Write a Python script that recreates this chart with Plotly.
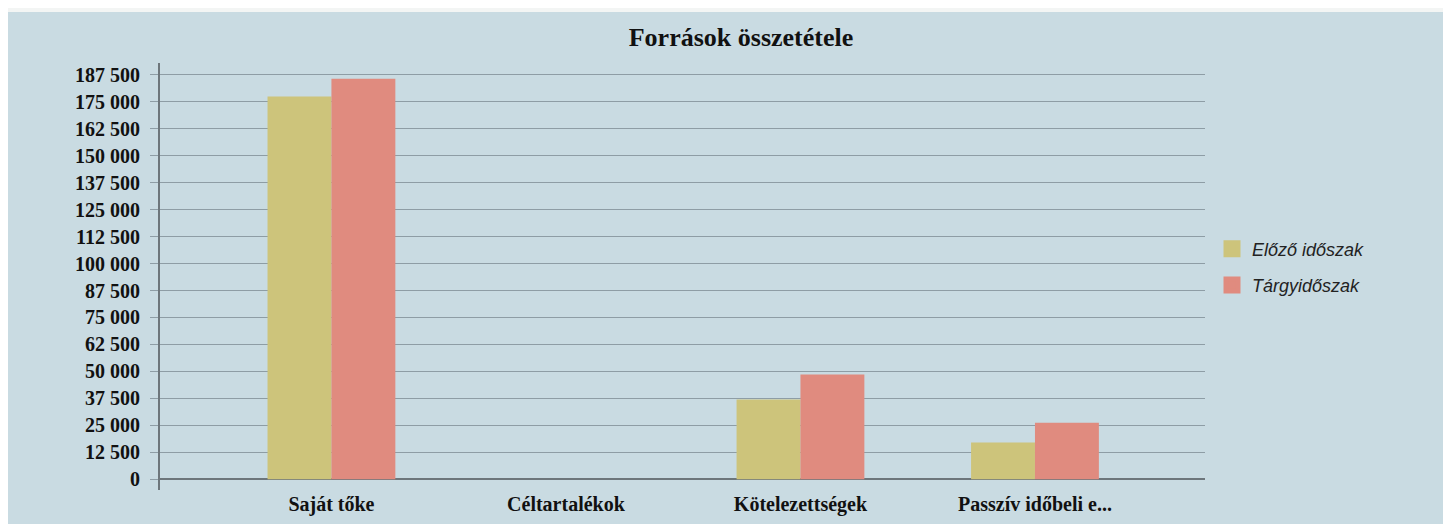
import plotly.graph_objects as go

categories = ["Saját tőke", "Céltartalékok", "Kötelezettségek", "Passzív időbeli e..."]
series_names = ["Előző időszak", "Tárgyidőszak"]
prev_values = [177500, 0, 37000, 17000]
curr_values = [185700, 0, 48500, 26200]
y_tick_values = [0, 12500, 25000, 37500, 50000, 62500, 75000, 87500, 100000,
                 112500, 125000, 137500, 150000, 162500, 175000, 187500]
y_tick_labels = ["0", "12 500", "25 000", "37 500", "50 000", "62 500", "75 000", "87 500", "100 000",
                 "112 500", "125 000", "137 500", "150 000", "162 500", "175 000", "187 500"]
title_text = "Források összetétele"

BG = "#c9dbe2"
GRID = "#8e9da5"
AXIS = "#6d767b"
YELLOW = "#cdc47b"
RED = "#e08b7f"
colors = [YELLOW, RED]

fig = go.Figure()
for name, vals, col, grp in zip(series_names, [prev_values, curr_values], colors, ["a", "b"]):
    fig.add_trace(go.Bar(x=categories, y=vals, name=name, legendgroup=grp, showlegend=False,
                         marker=dict(color=col, line=dict(width=0))))
    # legend-only entry with larger swatch, on a hidden overlay axis
    fig.add_trace(go.Bar(x=[categories[0]], y=[None], name=name, legendgroup=grp, showlegend=True,
                         xaxis="x2", yaxis="y2", hoverinfo="skip",
                         marker=dict(color=col, line=dict(width=5, color=col))))

# page is offset by the 8px body margin
W, H = 1443, 516
L, R, T, B = 152, 246, 55, 34
pw = W - L - R
ph = H - T - B

def px_x(x):
    return (x - L) / pw

def px_y(y):
    return (H - B - y) / ph

# whitish scan border at top
fig.add_shape(type="rect", xref="paper", yref="paper", x0=px_x(0), x1=px_x(W), y0=px_y(4), y1=px_y(0),
              fillcolor="#f3f5f4", line=dict(width=0), layer="below")

fig.update_layout(
    width=W, height=H,
    margin=dict(l=L, r=R, t=T, b=B, autoexpand=False),
    paper_bgcolor=BG, plot_bgcolor=BG,
    barmode="group", bargap=0.455, bargroupgap=0,
    title=dict(text=title_text, x=px_x(733), xref="paper", xanchor="center",
               y=1 - 29 / H, yref="container", yanchor="middle",
               font=dict(family="Liberation Serif", size=26, color="#111", weight="bold")),
    legend=dict(x=px_x(1204), y=px_y(259), xanchor="left", yanchor="middle",
                bgcolor="rgba(0,0,0,0)", itemwidth=30, tracegroupgap=10,
                font=dict(family="Liberation Sans", size=18, color="#222", style="italic")),
    showlegend=True,
    xaxis2=dict(overlaying="x", visible=False, range=[0, 1]),
    yaxis2=dict(overlaying="y", visible=False, range=[0, 1]),
)
fig.update_layout(xaxis=dict(range=[-0.731, 3.725], showgrid=False, showline=False, ticks="",
                             automargin=False,
                             tickfont=dict(family="Liberation Serif", size=20, color="#111", weight="bold"),
                             ticklabelstandoff=0),
                  yaxis=dict(range=[-5000, 193000], tickvals=y_tick_values, ticktext=y_tick_labels,
                             automargin=False,
                             showgrid=True, gridcolor=GRID, gridwidth=1,
                             showline=True, linecolor=AXIS, linewidth=2,
                             zeroline=True, zerolinecolor=AXIS, zerolinewidth=2,
                             ticks="outside", ticklen=8, tickcolor=GRID,
                             tickfont=dict(family="Liberation Serif", size=20, color="#111", weight="bold"),
                             ticklabelstandoff=6))

fig.write_html("out.html")
